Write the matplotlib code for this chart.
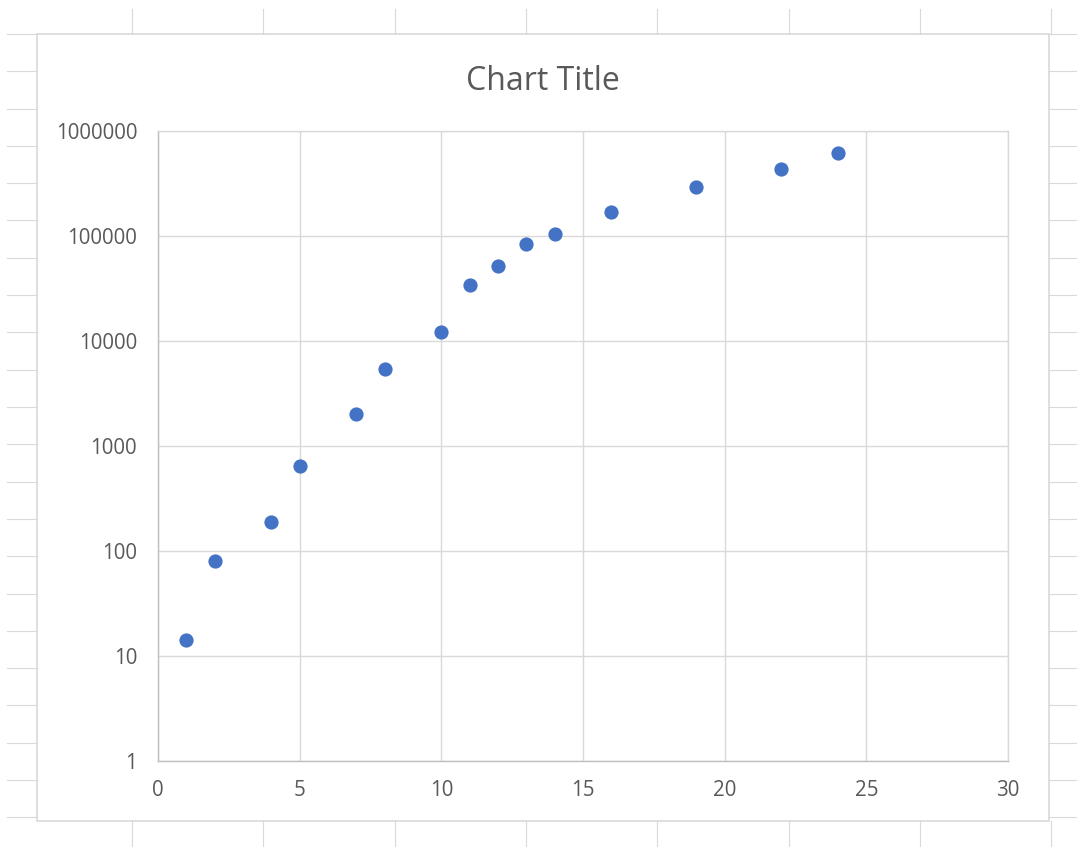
import matplotlib
matplotlib.use("Agg")
import matplotlib.pyplot as plt
from matplotlib.lines import Line2D
from matplotlib.patches import Rectangle
from matplotlib.ticker import FixedLocator, FixedFormatter

x_values = [1, 2, 4, 5, 7, 8, 10, 11, 12, 13, 14, 16, 19, 22, 24]
y_values = [14.2, 80, 189, 645, 2018, 5410, 12190, 34150, 51800, 83900, 104400, 169300, 293000, 434500, 617000]
x_ticks = [0, 5, 10, 15, 20, 25, 30]
y_ticks = [1, 10, 100, 1000, 10000, 100000, 1000000]
y_tick_labels = ["1", "10", "100", "1000", "10000", "100000", "1000000"]
title = "Chart Title"

W, H = 1077, 847
fig = plt.figure(figsize=(W / 100, H / 100), dpi=100)
fig.patch.set_facecolor("white")

def px(x, y):
    return x / W, 1 - y / H

sheet = "#d9d9d9"
# spreadsheet column lines (top and bottom strips)
for cx in [132, 263, 395, 526, 657, 789, 920, 1051]:
    for (y0, y1) in [(9, 34), (821, 847)]:
        fig.add_artist(Line2D([cx / W, cx / W], [1 - y0 / H, 1 - y1 / H], color=sheet, lw=0.8))
# spreadsheet row lines (left and right strips)
ry = 34.0
while ry < H:
    for (x0, x1) in [(7, 37), (1049, 1077)]:
        fig.add_artist(Line2D([x0 / W, x1 / W], [1 - ry / H, 1 - ry / H], color=sheet, lw=0.8))
    ry += 37.3

# chart area border
fig.add_artist(Rectangle(px(37, 821), (1049 - 37) / W, (821 - 34) / H, fill=True,
                         facecolor="white", edgecolor="#d9d9d9", lw=1.2, zorder=0.5))

ax = fig.add_axes([158 / W, (H - 761) / H, 850 / W, 630 / H])
ax.set_zorder(2)
ax.set_facecolor("none")
ax.set_yscale("log")
ax.set_xlim(0, 30)
ax.set_ylim(1, 1000000)
ax.xaxis.set_major_locator(FixedLocator(x_ticks))
ax.yaxis.set_major_locator(FixedLocator(y_ticks))
ax.yaxis.set_major_formatter(FixedFormatter(y_tick_labels))
ax.yaxis.set_minor_locator(FixedLocator([]))
ax.grid(True, color="#d9d9d9", lw=1.0)
ax.set_axisbelow(True)
for s in ["top", "right"]:
    ax.spines[s].set_color("#d9d9d9")
    ax.spines[s].set_linewidth(1.0)
for s in ["left", "bottom"]:
    ax.spines[s].set_color("#bfbfbf")
    ax.spines[s].set_linewidth(1.0)
ax.tick_params(axis="both", length=0, labelsize=14.8, labelcolor="#595959")
ax.tick_params(axis="y", pad=15)
ax.tick_params(axis="x", pad=14)
for lab in ax.get_xticklabels() + ax.get_yticklabels():
    lab.set_fontfamily("Open Sans")

ax.scatter(x_values, y_values, s=105, color="#4472C4", zorder=3, clip_on=False, linewidths=0)

fig.text(543 / W, 1 - 81 / H, title, ha="center", va="center", fontsize=23,
         color="#595959", family="Open Sans")

fig.savefig("out.png", dpi=100)
